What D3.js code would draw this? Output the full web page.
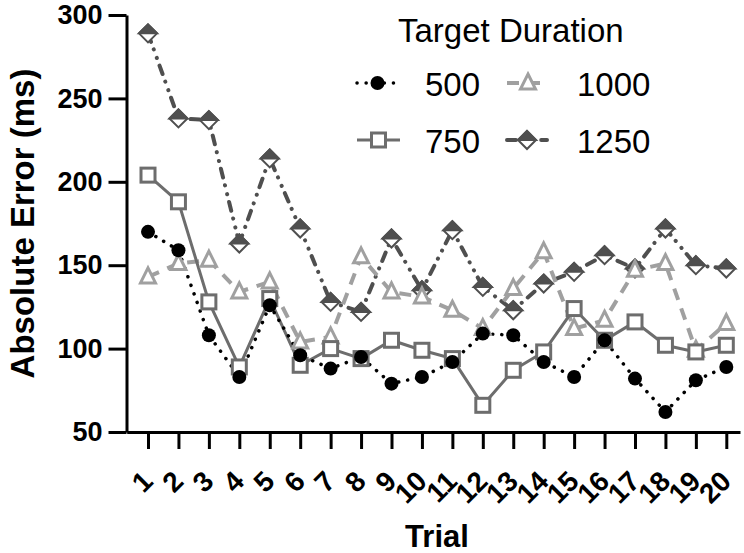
<!DOCTYPE html>
<html>
<head>
<meta charset="utf-8">
<script src="https://cdn.jsdelivr.net/npm/d3@7"></script>
<style>
  body { margin: 0; background: #fff; }
  svg { display: block; font-family: "Liberation Sans", Arial, sans-serif; }
</style>
</head>
<body>
<svg width="744" height="553"></svg>
<script>
// data
var trials = [1, 2, 3, 4, 5, 6, 7, 8, 9, 10, 11, 12, 13, 14, 15, 16, 17, 18, 19, 20];
var err500 = [170, 159, 108, 83, 126, 96, 88, 95, 79, 83, 92, 109, 108, 92, 83, 105, 82, 62, 81, 89];
var err750 = [204, 188, 128, 89, 130, 90, 100, 94, 105, 99, 94, 66, 87, 98, 124, 105, 116, 102, 98, 102];
var err1000 = [143, 151, 153, 134, 140, 104, 107, 155, 134, 131, 123, 112, 136, 158, 112, 117, 147, 151, 99, 115];
var err1250 = [289, 238, 237, 163, 214, 172, 128, 122, 166, 135, 171, 137, 123, 139, 146, 156, 148, 172, 150, 148];
var yTicks = [50, 100, 150, 200, 250, 300];

var series = [
    {name: "1250", values: err1250, color: "#4f4f4f", width: 4, dash: "9 8 0.1 9 0.1 8", cap: "round", marker: "diamond"},
    {name: "1000", values: err1000, color: "#a0a0a0", width: 4, dash: "12 9", cap: "butt", marker: "triangle"},
    {name: "750", values: err750, color: "#6d6d6d", width: 3, dash: null, cap: "butt", marker: "square"},
    {name: "500", values: err500, color: "#000", width: 3.5, dash: "0.1 9", cap: "round", marker: "circle"}
];

var svg = d3.select("svg");

var x = d3.scaleLinear().domain([0.3, 20.45]).range([126.7, 740]);
var y = d3.scaleLinear().domain([50, 300]).range([432, 15]);

// y axis
var yAxis = svg.append("g")
    .attr("transform", "translate(126.5,0)")
    .call(d3.axisLeft(y).tickValues(yTicks).tickSize(18).tickSizeOuter(0).tickPadding(6));
yAxis.select(".domain").attr("stroke-width", 3);
yAxis.selectAll(".tick line").attr("stroke-width", 3);
yAxis.selectAll(".tick text")
    .attr("font-size", 27).attr("font-weight", "bold").attr("fill", "#000")
    .attr("font-family", "Liberation Sans, Arial, sans-serif");

// x axis
var xAxis = svg.append("g")
    .attr("transform", "translate(0,432)")
    .call(d3.axisBottom(x).tickValues(trials).tickSize(17).tickSizeOuter(0));
xAxis.select(".domain").attr("stroke-width", 3);
xAxis.selectAll(".tick line").attr("stroke-width", 3);
xAxis.selectAll(".tick text")
    .attr("font-size", 28).attr("font-weight", "bold").attr("fill", "#000")
    .attr("font-family", "Liberation Sans, Arial, sans-serif")
    .attr("text-anchor", "end")
    .attr("y", 0).attr("dy", 0)
    .attr("transform", "translate(6,51) rotate(-45)");

// axis titles
svg.append("text")
    .attr("transform", "translate(34,223.5) rotate(-90)")
    .attr("text-anchor", "middle")
    .attr("font-size", 33).attr("font-weight", "bold")
    .text("Absolute Error (ms)");

svg.append("text")
    .attr("x", 437).attr("y", 547)
    .attr("text-anchor", "middle")
    .attr("font-size", 31).attr("font-weight", "bold")
    .text("Trial");

// lines
var line = d3.line()
    .x(function(d, i) { return x(trials[i]); })
    .y(function(d) { return y(d); });

series.forEach(function(s) {
    svg.append("path")
        .datum(s.values)
        .attr("fill", "none")
        .attr("stroke", s.color)
        .attr("stroke-width", s.width)
        .attr("stroke-dasharray", s.dash)
        .attr("stroke-linecap", s.cap)
        .attr("d", line);
});

function drawMarker(g, s, cx, cy) {
    if (s.marker == "circle") {
        g.append("circle").attr("cx", cx).attr("cy", cy).attr("r", 7).attr("fill", s.color);
    } else if (s.marker == "square") {
        g.append("rect").attr("x", cx - 7).attr("y", cy - 7).attr("width", 14).attr("height", 14)
            .attr("fill", "#fff").attr("stroke", s.color).attr("stroke-width", 3);
    } else if (s.marker == "triangle") {
        g.append("path")
            .attr("d", "M" + cx + "," + (cy - 9) + "L" + (cx + 7.5) + "," + (cy + 6) + "L" + (cx - 7.5) + "," + (cy + 6) + "Z")
            .attr("fill", "#fff").attr("stroke", s.color).attr("stroke-width", 3);
    } else if (s.marker == "diamond") {
        g.append("path")
            .attr("d", "M" + cx + "," + (cy - 9) + "L" + (cx + 9) + "," + cy + "L" + cx + "," + (cy + 9) + "L" + (cx - 9) + "," + cy + "Z")
            .attr("fill", "#fff").attr("stroke", s.color).attr("stroke-width", 2);
        g.append("path")
            .attr("d", "M" + cx + "," + (cy - 9) + "L" + (cx + 9) + "," + cy + "L" + (cx - 9) + "," + cy + "Z")
            .attr("fill", s.color).attr("stroke", s.color).attr("stroke-width", 2);
    }
}

series.forEach(function(s) {
    var g = svg.append("g");
    s.values.forEach(function(v, i) {
        drawMarker(g, s, x(trials[i]), y(v));
    });
});

// legend
var legend = svg.append("g");
legend.append("text")
    .attr("x", 398).attr("y", 42)
    .attr("font-size", 33)
    .text("Target Duration");

var legendPos = {
    "500": [357, 398, 83, 425],
    "1000": [507, 549, 83, 577],
    "750": [357, 400, 140, 425],
    "1250": [507, 547, 140, 577]
};

series.forEach(function(s) {
    var p = legendPos[s.name];
    legend.append("line")
        .attr("x1", p[0]).attr("x2", p[1]).attr("y1", p[2]).attr("y2", p[2])
        .attr("stroke", s.color)
        .attr("stroke-width", s.width)
        .attr("stroke-dasharray", s.dash)
        .attr("stroke-linecap", s.cap);
    drawMarker(legend, s, (p[0] + p[1]) / 2, p[2]);
    legend.append("text")
        .attr("x", p[3]).attr("y", p[2] + 13)
        .attr("font-size", 33)
        .text(s.name);
});
</script>
</body>
</html>
